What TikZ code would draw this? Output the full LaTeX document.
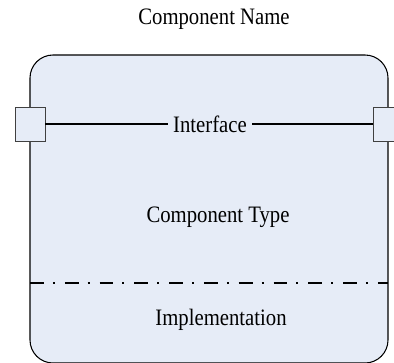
\documentclass[tikz,border=0pt]{standalone}
\usepackage{fontspec}
\setmainfont[FakeStretch=0.88]{Liberation Serif}
\definecolor{compfill}{RGB}{230,236,247}

\begin{document}
\begin{tikzpicture}[x=0.02cm,y=0.02cm,font=\fontsize{13.4}{16}\selectfont,
		port/.style={draw=black!75, fill=compfill, line width=0.5pt, inner sep=0pt, minimum width=0.6cm, minimum height=0.68cm},
		divider/.style={line width=0.6pt, dash pattern=on 7.9pt off 5.1pt on 1.1pt off 5.7pt}]
			\useasboundingbox (0,0) rectangle (394,362);
			
			\coordinate[](sw) at (30,-1);
			\coordinate[](ne) at (388,307);
			\coordinate[](splitL) at (30,79);
			\coordinate[](splitR) at (388,79);
			
			\draw[fill=compfill, line width=0.6pt, rounded corners=0.46cm](sw) rectangle (ne);
			
			\node[](name) at (214,343) {Component Name};
			\node[](type) at (218,145) {Component Type};
			\node[](impl) at (221,42) {Implementation};
			\node[inner xsep=0.1cm](iface) at (210,238) {Interface};
			
			\node[port](lport) at (30,238) {};
			\node[port](rport) at (388,238) {};
			
			\draw[line width=0.6pt](lport.east) -- (iface.west);
			\draw[line width=0.6pt](iface.east) -- (rport.west);
			
			\draw[divider](splitL) -- (splitR);
			\end{tikzpicture}
\end{document}
